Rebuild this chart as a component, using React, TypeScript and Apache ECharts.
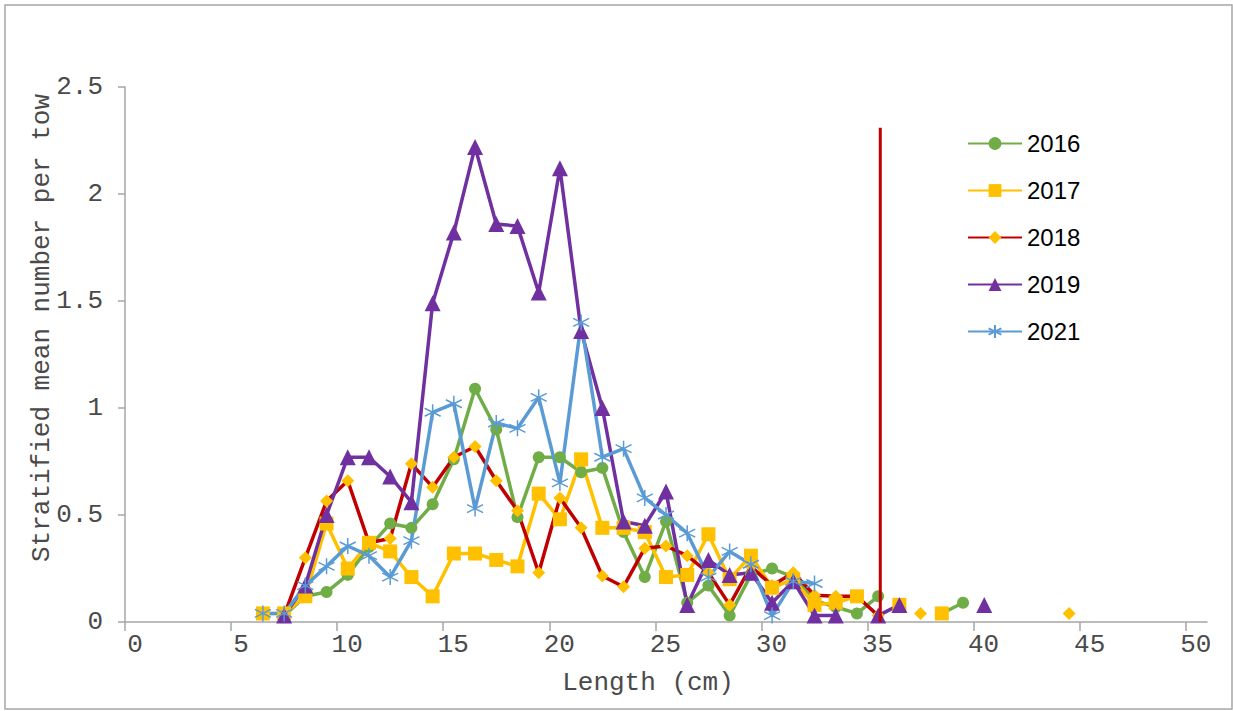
import React, { useEffect, useRef } from "react";
import * as echarts from "echarts";

const lengths = [6.5, 7.5, 8.5, 9.5, 10.5, 11.5, 12.5, 13.5, 14.5, 15.5, 16.5, 17.5, 18.5, 19.5, 20.5, 21.5, 22.5, 23.5, 24.5, 25.5, 26.5, 27.5, 28.5, 29.5, 30.5, 31.5, 32.5, 33.5, 34.5, 35.5, 36.5, 37.5, 38.5, 39.5, 40.5, 41.5, 42.5, 43.5, 44.5];

const y2016 = [null, 0.03, 0.12, 0.14, 0.22, 0.35, 0.46, 0.44, 0.55, 0.76, 1.09, 0.9, 0.49, 0.77, 0.77, 0.7, 0.72, 0.42, 0.21, 0.47, 0.09, 0.17, 0.03, 0.22, 0.25, 0.21, 0.1, 0.07, 0.04, 0.12, null, null, 0.04, 0.09, null, null, null, null, null];
const y2017 = [0.04, 0.04, 0.12, 0.46, 0.25, 0.37, 0.33, 0.21, 0.12, 0.32, 0.32, 0.29, 0.26, 0.6, 0.48, 0.76, 0.44, 0.44, 0.42, 0.21, 0.22, 0.41, 0.2, 0.31, 0.16, 0.2, 0.08, 0.09, 0.12, null, 0.08, null, 0.04, null, null, null, null, null, null];
const y2018 = [null, 0.03, 0.3, 0.565, 0.66, 0.37, 0.39, 0.74, 0.63, 0.77, 0.82, 0.66, 0.52, 0.23, 0.58, 0.44, 0.215, 0.165, 0.345, 0.355, 0.31, 0.23, 0.08, 0.26, 0.17, 0.23, 0.125, 0.12, 0.12, 0.03, null, 0.04, null, null, null, null, null, null, 0.04];
const y2019 = [null, 0.03, 0.17, 0.5, 0.77, 0.77, 0.68, 0.56, 1.49, 1.82, 2.22, 1.86, 1.85, 1.54, 2.12, 1.36, 1.0, 0.47, 0.45, 0.61, 0.08, 0.29, 0.22, 0.23, 0.09, 0.19, 0.03, 0.03, null, 0.03, 0.08, null, null, null, 0.08, null, null, null, null];
const y2021 = [0.04, 0.04, 0.17, 0.26, 0.355, 0.31, 0.21, 0.38, 0.98, 1.02, 0.53, 0.93, 0.905, 1.05, 0.65, 1.4, 0.77, 0.81, 0.58, 0.5, 0.415, 0.21, 0.33, 0.27, 0.03, 0.19, 0.18, null, null, null, null, null, null, null, null, null, null, null, null];

const xTickValues = [0, 5, 10, 15, 20, 25, 30, 35, 40, 45, 50];
const refLineX = 35.6;
const refLineTop = 2.31;

const ASTERISK = "path://M5,0L5,10M0.7,2.5L9.3,7.5M0.7,7.5L9.3,2.5";

function pairs(vals: (number | null)[]) {
  return lengths.map((x, i) => [x, vals[i] === null ? null : vals[i]]);
}

export default function App() {
  const ref = useRef<HTMLDivElement>(null);
  useEffect(() => {
    document.body.style.margin = "0";
    const chart = echarts.init(ref.current!, null, { renderer: "svg" });
    const mono = "'Liberation Mono', 'Courier New', monospace";
    const mk = (name: string, data: (number | null)[], lineColor: string, symbol: string, size: number, fill: string, extra: any = {}) => ({
      name,
      type: "line",
      data: pairs(data),
      connectNulls: false,
      showAllSymbol: true,
      symbol,
      symbolSize: size,
      lineStyle: { color: lineColor, width: 3.5 },
      itemStyle: { color: fill, borderColor: fill, borderWidth: 0, ...extra },
      emphasis: { disabled: true },
    });
    chart.setOption({
      animation: false,
      grid: { left: 125, right: 26, top: 87, bottom: 89, containLabel: false },
      xAxis: {
        type: "value",
        min: 0,
        max: 51,
        axisLine: { lineStyle: { color: "#a6a6a6", width: 1.5 } },
        axisTick: { show: true, length: 9, customValues: xTickValues, lineStyle: { color: "#a6a6a6", width: 1.5 } },
        axisLabel: { customValues: xTickValues, margin: 10, padding: [0, 0, 0, 20], fontFamily: mono, fontSize: 26, color: "#4a4a4a" },
        splitLine: { show: false },
      },
      yAxis: {
        type: "value",
        min: 0,
        max: 2.5,
        interval: 0.5,
        axisLine: { show: true, lineStyle: { color: "#a6a6a6", width: 1.5 } },
        axisTick: { show: true, length: 7, lineStyle: { color: "#a6a6a6", width: 1.5 } },
        axisLabel: { margin: 22, fontFamily: mono, fontSize: 26, color: "#4a4a4a" },
        splitLine: { show: false },
      },
      legend: {
        orient: "vertical",
        left: 962,
        top: 125,
        itemWidth: 54,
        itemHeight: 16,
        itemGap: 20,
        data: ["2016", "2017", "2018", "2019", "2021"],
        textStyle: { fontFamily: "'Liberation Sans', Arial, sans-serif", fontSize: 24, color: "#000", lineHeight: 27 },
      },
      graphic: [
        {
          type: "rect",
          shape: { x: 5, y: 5, width: 1227, height: 704 },
          style: { fill: "none", stroke: "#a6a6a6", lineWidth: 1.5 },
          silent: true,
        },
        {
          type: "text",
          x: 42,
          y: 328,
          rotation: Math.PI / 2,
          style: { text: "Stratified mean number per tow", fontFamily: mono, fontSize: 26, fill: "#4a4a4a", align: "center", verticalAlign: "middle" },
        },
        {
          type: "text",
          x: 648,
          y: 683,
          style: { text: "Length (cm)", fontFamily: mono, fontSize: 26, fill: "#4a4a4a", align: "center", verticalAlign: "middle" },
        },
      ],
      series: [
        mk("2016", y2016, "#70AD47", "circle", 12, "#70AD47"),
        mk("2017", y2017, "#FFC000", "rect", 14, "#FFC000"),
        mk("2018", y2018, "#C00000", "diamond", 13, "#FFC000"),
        mk("2019", y2019, "#7030A0", "triangle", 16, "#7030A0"),
        mk("2021", y2021, "#5B9BD5", ASTERISK, 16, "#5B9BD5", { borderWidth: 1.5 }),
        {
          name: "ref",
          type: "line",
          data: [[refLineX, 0], [refLineX, refLineTop]],
          symbol: "none",
          lineStyle: { color: "#C00000", width: 3 },
          emphasis: { disabled: true },
          z: 5,
        },
      ],
    });
    return () => chart.dispose();
  }, []);
  return <div ref={ref} style={{ width: 1233, height: 711 }} />;
}
